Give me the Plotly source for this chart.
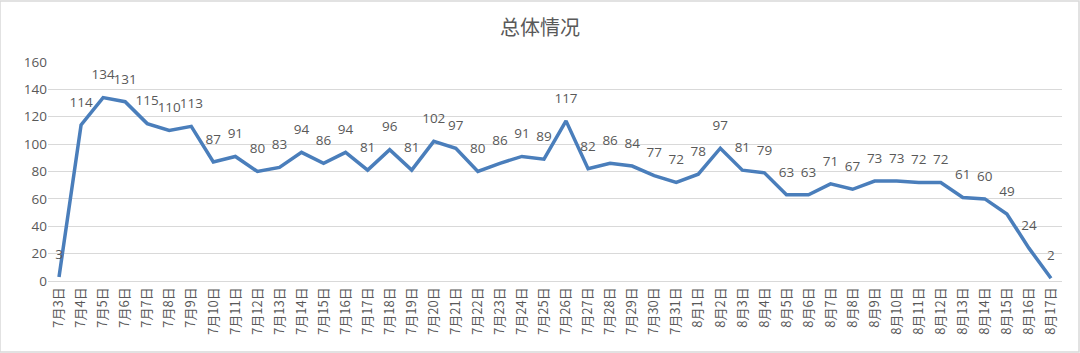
import plotly.graph_objects as go

dates = [f"7月{d}日" for d in range(3, 32)] + [f"8月{d}日" for d in range(1, 18)]
values = [3, 114, 134, 131, 115, 110, 113, 87, 91, 80, 83, 94, 86, 94, 81, 96, 81,
          102, 97, 80, 86, 91, 89, 117, 82, 86, 84, 77, 72, 78, 97, 81, 79, 63, 63,
          71, 67, 73, 73, 72, 72, 61, 60, 49, 24, 2]
y_ticks = [0, 20, 40, 60, 80, 100, 120, 140, 160]

fig = go.Figure()
fig.add_trace(go.Scatter(
    x=dates, y=values, mode="lines+markers+text",
    text=[str(v) for v in values], textposition="top center",
    textfont=dict(family="Open Sans, sans-serif", size=13.5, color="#595959"),
    line=dict(color="#4A7EBB", width=3.5),
    marker=dict(size=22, color="rgba(0,0,0,0)", line=dict(width=0)),
    cliponaxis=False, hoverinfo="skip",
))

fig.update_layout(
    width=1080, height=353,
    margin=dict(l=48, r=18, t=62, b=72),
    paper_bgcolor="white", plot_bgcolor="white",
    title=dict(text="总体情况", x=0.5, xanchor="center", y=0.92, yanchor="middle",
               font=dict(family="Noto Sans CJK SC, sans-serif", size=20, color="#595959")),
    showlegend=False,
    shapes=[dict(type="rect", xref="paper", yref="paper", x0=-48/1014, x1=1+17/1014,
                 y0=-71/219, y1=1+61/219, line=dict(color="#d9d9d9", width=1.5))],
)
fig.update_xaxes(
    type="category", range=[-0.5, len(dates) - 0.5], tickangle=-90,
    tickfont=dict(family="Noto Sans CJK SC, sans-serif", size=13, color="#595959"),
    showline=True, linecolor="#d9d9d9", linewidth=1, showgrid=False, ticks="",
)
fig.update_yaxes(
    range=[0, 160], tickvals=y_ticks, showgrid=True, gridcolor="#d9d9d9", gridwidth=1,
    zeroline=False, showline=False, ticks="",
    tickfont=dict(family="Open Sans, sans-serif", size=13.5, color="#595959"),
)

fig.write_html("out.html")
